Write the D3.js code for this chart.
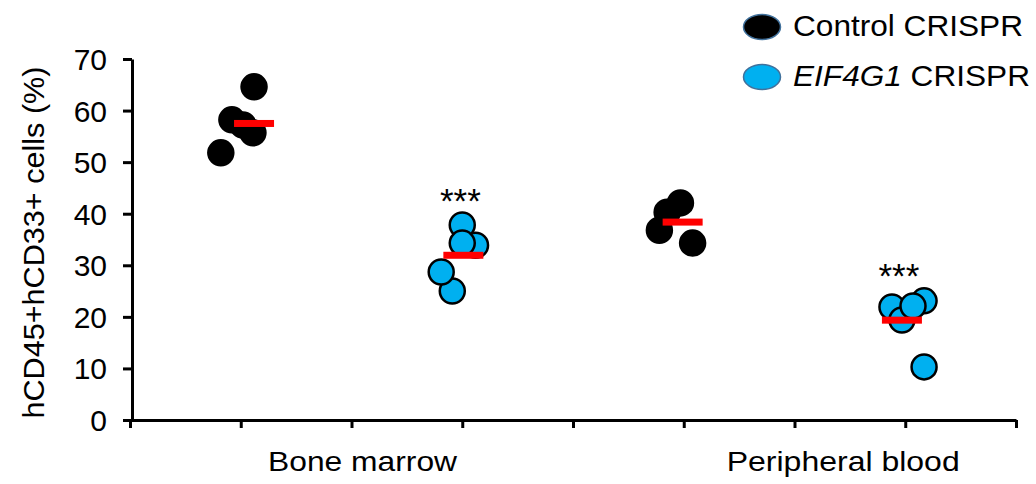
<!DOCTYPE html>
<html>
<head>
<meta charset="utf-8">
<script src="https://cdn.jsdelivr.net/npm/d3@7"></script>
<style>
  html, body { margin: 0; padding: 0; background: #fff; }
  svg { display: block; font-family: "Liberation Sans", Arial, sans-serif; }
</style>
</head>
<body>
<svg id="chart" width="1036" height="484"></svg>
<script>
// Tissue labels and conditions
const tissues = ["Bone marrow", "Peripheral blood"];
const conditions = ["Control CRISPR", "EIF4G1 CRISPR"];
const yTicks = [0, 10, 20, 30, 40, 50, 60, 70];

// Percent hCD45+hCD33+ cells per mouse, with the jittered position of each dot on the x axis
const bmControl  = [64.6, 58.2, 57.2, 55.7, 51.8];
const bmControlX = [1.12, 0.92, 1.02, 1.11, 0.82];
const bmEif      = [25.0, 28.7, 33.9, 37.8, 34.3];
const bmEifX     = [2.91, 2.81, 3.12, 3.00, 3.00];
const pbControl  = [42.1, 40.3, 36.8, 34.3];
const pbControlX = [4.97, 4.85, 4.78, 5.08];
const pbEif      = [23.1, 21.9, 19.4, 22.1, 10.3];
const pbEifX     = [7.17, 6.88, 6.97, 7.07, 7.17];

// Where each group's mean bar sits, and which groups are significant
const meanBarX = [1.12, 3.01, 4.99, 6.97];
const significance = ["", "***", "", "***"];
const tissueLabelX = [2.1, 6.44];

const colors = { "Control CRISPR": "#000000", "EIF4G1 CRISPR": "#00B0F0" };

const groups = [
  { condition: conditions[0], values: bmControl, xs: bmControlX },
  { condition: conditions[1], values: bmEif,     xs: bmEifX },
  { condition: conditions[0], values: pbControl, xs: pbControlX },
  { condition: conditions[1], values: pbEif,     xs: pbEifX }
];

const svg = d3.select("#chart");
const x = d3.scaleLinear().domain([0, 8]).range([130, 1016]);
const y = d3.scaleLinear().domain([0, 70]).range([420, 59]);

// Axes
const xAxis = svg.append("g")
  .attr("transform", `translate(0,${y(0)})`)
  .call(d3.axisBottom(x).tickValues(d3.range(0, 9)).tickFormat("").tickSize(8).tickSizeOuter(0));
const yAxis = svg.append("g")
  .attr("transform", `translate(${x(0) + 2},0)`)
  .call(d3.axisLeft(y).tickValues(yTicks).tickSize(9).tickPadding(16).tickSizeOuter(0));

[xAxis, yAxis].forEach(g => {
  g.select(".domain").attr("stroke", "#000").attr("stroke-width", 3);
  g.selectAll(".tick line").attr("stroke", "#000").attr("stroke-width", 3);
});
yAxis.selectAll(".tick text")
  .attr("fill", "#000")
  .attr("dy", "0.35em")
  .style("font-size", "30px")
  .style("font-family", "'Liberation Sans', Arial, sans-serif");

// Y axis title
svg.append("text")
  .attr("transform", `translate(44,${(y(0) + y(70)) / 2 + 3}) rotate(-90)`)
  .attr("text-anchor", "middle")
  .attr("textLength", 352)
  .attr("lengthAdjust", "spacingAndGlyphs")
  .style("font-size", "29px")
  .text("hCD45+hCD33+ cells (%)");

// Tissue labels
const tissueWidths = [189, 233];
svg.selectAll(".tissue")
  .data(tissues)
  .join("text")
  .attr("class", "tissue")
  .attr("x", (d, i) => x(tissueLabelX[i]))
  .attr("y", 471)
  .attr("text-anchor", "middle")
  .attr("textLength", (d, i) => tissueWidths[i])
  .attr("lengthAdjust", "spacingAndGlyphs")
  .style("font-size", "28px")
  .text(d => d);

// Dots
const r = 12.5;
groups.forEach(gr => {
  svg.append("g")
    .selectAll("circle")
    .data(gr.values)
    .join("circle")
    .attr("cx", (d, i) => x(gr.xs[i]))
    .attr("cy", d => y(d))
    .attr("r", r)
    .attr("fill", colors[gr.condition])
    .attr("stroke", "#000")
    .attr("stroke-width", 2.5);
});

// Mean bars
groups.forEach((gr, i) => {
  const m = d3.mean(gr.values);
  svg.append("rect")
    .attr("x", x(meanBarX[i]) - 20)
    .attr("y", y(m) - 3.5)
    .attr("width", 40)
    .attr("height", 7)
    .attr("fill", "#FF0000");
});

// Significance stars
groups.forEach((gr, i) => {
  if (!significance[i]) return;
  svg.append("text")
    .attr("x", x(meanBarX[i]) - 3)
    .attr("y", y(d3.max(gr.values)) - r)
    .attr("text-anchor", "middle")
    .style("font-size", "35px")
    .text(significance[i]);
});

// Legend
const legend = svg.append("g");
const legendWidths = [230, 237];
conditions.forEach((c, i) => {
  const cy = 27 + i * 50;
  legend.append("ellipse")
    .attr("cx", 762).attr("cy", cy)
    .attr("rx", 18.5).attr("ry", 12.5)
    .attr("fill", colors[c])
    .attr("stroke", "#41719C")
    .attr("stroke-width", 1.5);
  const t = legend.append("text")
    .attr("x", 793).attr("y", cy + 8.5)
    .attr("textLength", legendWidths[i])
    .attr("lengthAdjust", "spacingAndGlyphs")
    .style("font-size", "29px");
  if (i === 1) {
    t.append("tspan").style("font-style", "italic").text("EIF4G1");
    t.append("tspan").text(" CRISPR");
  } else {
    t.text(c);
  }
});
</script>
</body>
</html>
